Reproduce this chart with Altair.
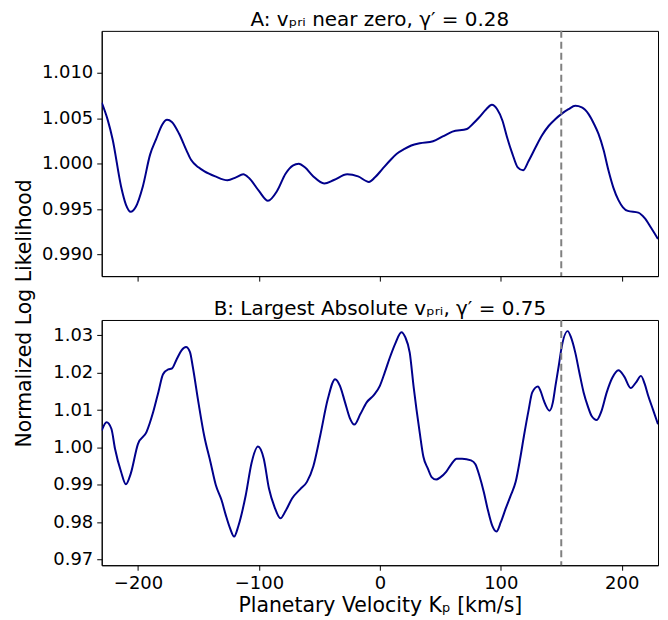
import altair as alt
import pandas as pd

# Panel A: v_pri near zero, gamma' = 0.28
kp_a = [-230, -225, -221, -214, -210, -206, -202, -196, -190, -185, -180, -176, -172, -166,
        -160, -156, -150, -145, -136, -126, -119, -113, -108, -100, -92.5, -85, -78, -72,
        -67, -62, -55, -46, -38, -27, -18, -9, -4, 2, 8, 14, 20, 26, 33, 44, 52, 60, 72,
        77, 82, 88, 92.6, 97, 101.4, 105, 109.6, 114, 118.4, 123, 128.8, 134, 139.7, 145,
        150, 156, 161.6, 167, 172.6, 177, 180.8, 185, 189, 193, 197.3, 201, 205, 213.7,
        219, 224, 230]
ll_a = [1.00672, 1.0048, 1.0027, 0.9975, 0.9955, 0.9947, 0.9952, 0.9975, 1.0010, 1.0027,
        1.0043, 1.00484, 1.0046, 1.0033, 1.0015, 1.0004, 0.9996, 0.99915, 0.9986, 0.99818,
        0.9985, 0.99883, 0.9984, 0.9970, 0.99592, 0.9970, 0.9989, 0.9998, 1.0000, 0.9996,
        0.9986, 0.99782, 0.9982, 0.99883, 0.9986, 0.99799, 0.9985, 0.9994, 1.0003, 1.0011,
        1.0016, 1.0020, 1.00225, 1.00247, 1.0030, 1.00353, 1.00382, 1.0044, 1.00509, 1.0060,
        1.00648, 1.0060, 1.00473, 1.0030, 1.00109, 0.9996, 0.99927, 1.0003, 1.00181, 1.0031,
        1.00418, 1.0049, 1.00546, 1.0060, 1.00637, 1.0062, 1.00546, 1.0044, 1.00328, 1.0015,
        0.99927, 0.9974, 0.99599, 0.9952, 0.9948, 0.99461, 0.9940, 0.9930, 0.9917]

# Panel B: largest absolute v_pri, gamma' = 0.75
kp_b = [-230, -226, -222, -219, -214, -210, -206, -200, -193, -187.5, -183, -179.3, -175,
        -172, -168, -164, -160.3, -157, -154.8, -150, -145.3, -140, -135.6, -131, -127.4,
        -124, -120.5, -117, -110.9, -106, -100.8, -96, -91.7, -87, -82.2, -78, -72.6, -66,
        -60.3, -55, -49.3, -43, -37, -33, -28.8, -25, -21.1, -16, -10.9, -5, 0, 4, 8.2, 13,
        17.8, 21, 24.7, 28, 32.9, 36, 39.7, 43, 46.6, 50, 54.8, 59, 63.5, 68, 75.4, 79,
        82.2, 86, 89, 93, 96.4, 100, 104.1, 108, 112.3, 116, 119.2, 123, 126, 130.7, 133,
        135.6, 140.3, 143, 145.2, 148, 150, 155.3, 158, 161.6, 165, 168.5, 172, 175, 179.4,
        183, 187.6, 192, 197.3, 202, 207.4, 212, 215.9, 219, 221.9, 226, 230]
ll_b = [1.0045, 1.00675, 1.0050, 0.99965, 0.9935, 0.99016, 0.9930, 1.00098, 1.0041, 1.0094,
        1.0150, 1.0196, 1.0209, 1.02112, 1.0236, 1.0260, 1.02686, 1.0255, 1.0218, 1.0120,
        1.0032, 0.9960, 0.98989, 0.9860, 0.98191, 0.9785, 0.97617, 0.9790, 0.98723, 0.9960,
        1.00027, 0.9970, 0.98902, 0.9840, 0.98104, 0.9830, 0.98636, 0.9888, 0.9908, 0.9950,
        1.00319, 1.0130, 1.01827, 1.0165, 1.01207, 1.0080, 1.00612, 1.0090, 1.01207, 1.0140,
        1.01649, 1.0200, 1.0240, 1.0280, 1.03085, 1.0295, 1.02537, 1.0160, 1.0041, 0.9975,
        0.99434, 0.9920, 0.99141, 0.9920, 0.99346, 0.9955, 0.99699, 0.9970, 0.99654, 0.9955,
        0.99255, 0.9880, 0.9837, 0.9790, 0.9775, 0.9800, 0.9837, 0.9870, 0.9908, 0.9970,
        1.00319, 1.0100, 1.01473, 1.01633, 1.0150, 1.0125, 1.00984, 1.0120, 1.01649, 1.0220,
        1.02625, 1.03112, 1.0295, 1.02537, 1.0200, 1.01473, 1.0110, 1.0085, 1.00737, 1.0095,
        1.01473, 1.0185, 1.02066, 1.0190, 1.01588, 1.0175, 1.01915, 1.0170, 1.01383, 1.0100,
        1.0062]

kp_marker = [150]
x_ticks = [-200, -100, 0, 100, 200]
y_ticks_a = [0.990, 0.995, 1.000, 1.005, 1.010]
y_ticks_b = [0.97, 0.98, 0.99, 1.00, 1.01, 1.02, 1.03]
x_domain = [-230, 230]
y_domain_a = [0.98762, 1.01463]
y_domain_b = [0.9685, 1.0341]

title_a = "A: vₚᵣᵢ near zero, γ′ = 0.28"
title_b = "B: Largest Absolute vₚᵣᵢ, γ′ = 0.75"
x_title = "Planetary Velocity Kₚ [km/s]"
y_title = "Normalized Log Likelihood"

FONT = "DejaVu Sans"
W, H = 558, 246
GAP = 44

df_a = pd.DataFrame({"kp": kp_a, "ll": ll_a})
df_b = pd.DataFrame({"kp": kp_b, "ll": ll_b})
df_m = pd.DataFrame({"kp": kp_marker})

axis_common = dict(labelFont=FONT, labelFontSize=18, labelColor="black",
                   tickColor="black", domainColor="black", tickSize=5,
                   labelPadding=4, grid=False, titleFont=FONT, titleFontSize=20.5,
                   titleFontWeight="normal", titleColor="black")


def panel(df, ytitle_axis, yticks, ydom, fmt, show_x_labels, title):
    xaxis = alt.Axis(values=x_ticks, format="d", labels=show_x_labels,
                     title=x_title if show_x_labels else None, titlePadding=3,
                     **axis_common)
    x = alt.X("kp:Q", scale=alt.Scale(domain=x_domain, nice=False, zero=False),
              axis=xaxis)
    y = alt.Y("ll:Q", scale=alt.Scale(domain=ydom, nice=False, zero=False),
              axis=ytitle_axis(yticks, fmt))
    line = alt.Chart(df).mark_line(color="#00008B", strokeWidth=2,
                                   interpolate="monotone", clip=True).encode(x=x, y=y)
    rule = alt.Chart(df_m).mark_rule(color="#808080", strokeWidth=2,
                                     strokeDash=[7, 4]).encode(
        x=alt.X("kp:Q", scale=alt.Scale(domain=x_domain, nice=False, zero=False)))
    return alt.layer(line, rule).properties(
        width=W, height=H,
        title=alt.TitleParams(title, font=FONT, fontSize=20, fontWeight="normal",
                              color="black", offset=0))


def yaxis_a(vals, fmt):
    return alt.Axis(values=vals, format=fmt, title=y_title, titleX=-67,
                    titleY=H + GAP / 2 + 15, **axis_common)


def yaxis_b(vals, fmt):
    return alt.Axis(values=vals, format=fmt, title=None, **axis_common)


top = panel(df_a, yaxis_a, y_ticks_a, y_domain_a, ".3f", False, title_a)
bottom = panel(df_b, yaxis_b, y_ticks_b, y_domain_b, ".2f", True, title_b)

chart = alt.vconcat(top, bottom, spacing=GAP, bounds="flush").properties(
    padding={"left": 6, "top": 0, "right": 1, "bottom": 4}
).configure_view(stroke="black", strokeWidth=1).resolve_scale(y="independent")

chart.save("out.html", embed_options={"renderer": "svg", "actions": False})
